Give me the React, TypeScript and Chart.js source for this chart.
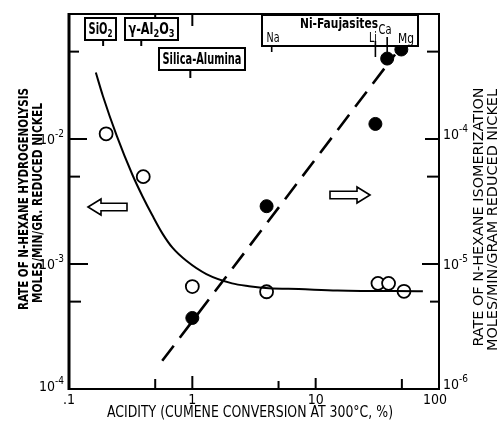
import { useEffect, useRef } from 'react';
import { Chart, registerables } from 'chart.js';

Chart.register(...registerables);

// ---- Data ----
// Open circles: n-hexane hydrogenolysis rate (left axis)
const hydroAcidity = [0.2, 0.4, 1, 4, 32, 39, 52];
const hydroRate = [1.1e-2, 5.0e-3, 6.6e-4, 6.0e-4, 7.0e-4, 7.0e-4, 6.05e-4];
// Filled circles: n-hexane isomerization rate (right axis)
const isoAcidity = [1, 4, 30.5, 38, 49.5];
const isoRate = [3.7e-6, 2.9e-5, 1.32e-4, 4.4e-4, 5.2e-4];
// Solid hydrogenolysis trend curve
const curveAcidity = [0.165, 0.188, 0.244, 0.328, 0.395, 0.475, 0.573, 0.69, 0.895, 1.3, 2.1, 2.88, 4.18, 7.3, 15, 74];
const curveRate = [3.4e-2, 2.22e-2, 1.06e-2, 5.13e-3, 3.47e-3, 2.44e-3, 1.75e-3, 1.35e-3, 1.06e-3, 8.3e-4, 7.0e-4, 6.65e-4, 6.4e-4, 6.3e-4, 6.15e-4, 6.05e-4];
// Dashed isomerization trend line
const dashAcidity = [0.57, 44];
const dashRate = [1.68e-6, 4.75e-4];
// Catalyst markers
const supportNames = ['SiO2', 'γ-Al2O3', 'Silica-Alumina'];
const supportAcidity = [0.2, 0.4, 1];
const faujasiteNames = ['Na', 'Li', 'Ca', 'Mg'];
const faujasiteAcidity = [4.4, 30.5, 38, 50];
// Tick labels
const xTickValues = [0.1, 1, 10, 100];
const xTickLabels = ['.1', '1', '10', '100'];
const leftTickExps = [-4, -3, -2];
const rightTickExps = [-6, -5, -4];

const FONT = '"Liberation Sans Narrow", "DejaVu Sans Condensed", "Liberation Sans", sans-serif';

function line(ctx: CanvasRenderingContext2D, x1: number, y1: number, x2: number, y2: number) {
  ctx.beginPath();
  ctx.moveTo(x1, y1);
  ctx.lineTo(x2, y2);
  ctx.stroke();
}

function fitText(ctx: CanvasRenderingContext2D, text: string, cx: number, cy: number, w: number, font: string, rot = 0) {
  ctx.save();
  ctx.translate(cx, cy);
  ctx.rotate(rot);
  ctx.font = font;
  const m = ctx.measureText(text).width;
  ctx.scale(w / m, 1);
  ctx.textAlign = 'center';
  ctx.textBaseline = 'middle';
  ctx.fillText(text, 0, 0);
  ctx.restore();
}

// chemical-formula text: digits become subscripts; drawn centred and fitted to width w
function richText(ctx: CanvasRenderingContext2D, text: string, cx: number, baseline: number, w: number, size: number, weight = 'bold') {
  const segs: { t: string; sub: boolean }[] = [];
  for (const ch of text) {
    const sub = /[0-9]/.test(ch);
    const last = segs[segs.length - 1];
    if (last && last.sub === sub) last.t += ch;
    else segs.push({ t: ch, sub });
  }
  const big = `${weight} ${size}px ${FONT}`;
  const small = `${weight} ${Math.round(size * 0.72)}px ${FONT}`;
  let total = 0;
  const widths = segs.map((s) => {
    ctx.font = s.sub ? small : big;
    const ww = ctx.measureText(s.t).width;
    total += ww;
    return ww;
  });
  ctx.save();
  ctx.translate(cx, baseline);
  ctx.scale(w / total, 1);
  let x = -total / 2;
  ctx.textAlign = 'left';
  ctx.textBaseline = 'alphabetic';
  segs.forEach((s, i) => {
    ctx.font = s.sub ? small : big;
    ctx.fillText(s.t, x, s.sub ? 3 : 0);
    x += widths[i];
  });
  ctx.restore();
}

function pow10Label(ctx: CanvasRenderingContext2D, exp: number, x: number, y: number, align: 'left' | 'right') {
  const base = '10';
  const sup = '-' + Math.abs(exp);
  ctx.font = `14px ${FONT}`;
  const wb = ctx.measureText(base).width;
  ctx.font = `10px ${FONT}`;
  const ws = ctx.measureText(sup).width;
  const x0 = align === 'right' ? x - wb - ws : x;
  ctx.textAlign = 'left';
  ctx.textBaseline = 'alphabetic';
  ctx.font = `14px ${FONT}`;
  ctx.fillText(base, x0, y + 5);
  ctx.font = `10px ${FONT}`;
  ctx.fillText(sup, x0 + wb, y - 2);
}

function arrow(ctx: CanvasRenderingContext2D, tipX: number, cy: number, len: number, dir: number) {
  // dir = -1 points left, +1 points right
  const headL = 13, headH = 8, bodyH = 3.8;
  const hx = tipX - dir * headL;
  const tx = tipX - dir * len;
  ctx.beginPath();
  ctx.moveTo(tipX, cy);
  ctx.lineTo(hx, cy - headH);
  ctx.lineTo(hx, cy - bodyH);
  ctx.lineTo(tx, cy - bodyH);
  ctx.lineTo(tx, cy + bodyH);
  ctx.lineTo(hx, cy + bodyH);
  ctx.lineTo(hx, cy + headH);
  ctx.closePath();
  ctx.fillStyle = '#fff';
  ctx.fill();
  ctx.lineWidth = 1.6;
  ctx.stroke();
  ctx.fillStyle = '#000';
}

const decorPlugin = {
  id: 'decor',
  afterDraw(chart: any) {
    const { ctx, chartArea: a, scales } = chart;
    const xs = scales.x, yl = scales.y, yr = scales.y2;
    ctx.save();
    ctx.strokeStyle = '#000';
    ctx.fillStyle = '#000';
    ctx.lineCap = 'butt';

    // frame
    ctx.lineWidth = 2;
    ctx.strokeRect(a.left, a.top, a.right - a.left, a.bottom - a.top);
    ctx.lineWidth = 3;
    line(ctx, a.left, a.top - 1, a.left, a.bottom + 1);

    // inward ticks
    ctx.lineWidth = 2;
    const leftTicks: [number, number][] = [[1e-3, 19], [1e-2, 18], [5e-4, 12], [5e-3, 11], [5e-2, 10]];
    leftTicks.forEach(([v, l]) => { const y = yl.getPixelForValue(v); line(ctx, a.left, y, a.left + l, y); });
    const rightTicks: [number, number][] = [[1e-5, 17], [1e-4, 14], [5e-6, 9], [5e-5, 12], [5e-4, 12]];
    rightTicks.forEach(([v, l]) => { const y = yr.getPixelForValue(v); line(ctx, a.right, y, a.right - l, y); });
    const bottomTicks: [number, number][] = [[0.5, 10], [1, 13], [5, 8], [10, 11], [50, 10]];
    bottomTicks.forEach(([v, l]) => { const x = xs.getPixelForValue(v); line(ctx, x, a.bottom, x, a.bottom - l); });
    const topTicks: [number, number][] = [[0.5, 6], [1, 12]];
    topTicks.forEach(([v, l]) => { const x = xs.getPixelForValue(v); line(ctx, x, a.top, x, a.top + l); });

    // x tick labels
    ctx.font = `14px ${FONT}`;
    ctx.textAlign = 'center';
    ctx.textBaseline = 'alphabetic';
    xTickValues.forEach((v, i) => {
      let x = xs.getPixelForValue(v);
      if (i === xTickValues.length - 1) x -= 4;
      ctx.fillText(xTickLabels[i], x, a.bottom + 15);
    });

    // y tick labels
    leftTickExps.forEach((e) => {
      let y = yl.getPixelForValue(Math.pow(10, e));
      if (e === -4) y -= 3;
      pow10Label(ctx, e, a.left - 5, y, 'right');
    });
    rightTickExps.forEach((e) => {
      let y = yr.getPixelForValue(Math.pow(10, e));
      if (e === -6) y -= 5;
      if (e === -4) y -= 5;
      pow10Label(ctx, e, a.right + 4, y, 'left');
    });

    // axis titles
    fitText(ctx, 'ACIDITY (CUMENE CONVERSION AT 300°C, %)', 250, 413, 286, `15px ${FONT}`);
    fitText(ctx, 'RATE OF N-HEXANE HYDROGENOLYSIS', 24, 199, 222, `bold 14px ${FONT}`, -Math.PI / 2);
    fitText(ctx, 'MOLES/MIN/GR. REDUCED NICKEL', 38, 203, 200, `bold 14px ${FONT}`, -Math.PI / 2);
    fitText(ctx, 'RATE OF N-HEXANE ISOMERIZATION', 479, 217, 259, `14px ${FONT}`, -Math.PI / 2);
    fitText(ctx, 'MOLES/MIN/GRAM REDUCED NICKEL', 493, 220, 262, `14px ${FONT}`, -Math.PI / 2);

    // support boxes
    const supportBoxes = [
      { x: 85, y: 18, w: 31, h: 22, tw: 24, tickTop: 40, tickBot: 46 },
      { x: 125, y: 18, w: 53, h: 22, tw: 46, tickTop: 40, tickBot: 46 },
      { x: 159, y: 48, w: 86, h: 22, tw: 79, tickTop: 70, tickBot: 78 },
    ];
    supportNames.forEach((name, i) => {
      const b = supportBoxes[i];
      const tx = xs.getPixelForValue(supportAcidity[i]) - (i === 0 ? 3 : 2);
      ctx.lineWidth = 2;
      line(ctx, tx, b.tickTop, tx, b.tickBot);
      ctx.fillStyle = '#fff';
      ctx.fillRect(b.x, b.y, b.w, b.h);
      ctx.fillStyle = '#000';
      ctx.strokeRect(b.x, b.y, b.w, b.h);
      richText(ctx, name, b.x + b.w / 2, b.y + 16, b.tw, 15);
    });

    // Ni-Faujasites box
    ctx.fillStyle = '#fff';
    ctx.fillRect(262, 15, 156, 31);
    ctx.fillStyle = '#000';
    ctx.lineWidth = 2;
    ctx.strokeRect(262, 15, 156, 31);
    richText(ctx, 'Ni-Faujasites', 339, 28, 78, 14);
    const fLabel = [
      { cx: 273, base: 42, w: 13 },
      { cx: 373, base: 42, w: 8 },
      { cx: 385, base: 34, w: 13 },
      { cx: 406, base: 43, w: 16 },
    ];
    const fTick = [
      [46, 52],
      [41, 57],
      [37, 52],
      [46, 50],
    ];
    faujasiteNames.forEach((n, i) => {
      const L = fLabel[i];
      richText(ctx, n, L.cx, L.base, L.w, 14, 'normal');
      const tx = xs.getPixelForValue(faujasiteAcidity[i]);
      ctx.lineWidth = 1.6;
      line(ctx, tx, fTick[i][0], tx, fTick[i][1]);
    });

    // direction arrows
    arrow(ctx, 88, 207, 39, -1);
    arrow(ctx, 370, 195, 40, 1);

    ctx.restore();
  },
};

export default function App() {
  const ref = useRef<HTMLCanvasElement>(null);
  useEffect(() => {
    if (!ref.current) return;
    const chart = new Chart(ref.current, {
      type: 'line',
      data: {
        datasets: [
          {
            label: 'hydrogenolysis trend',
            data: curveAcidity.map((x, i) => ({ x, y: curveRate[i] })),
            yAxisID: 'y',
            borderColor: '#000',
            borderWidth: 2,
            pointRadius: 0,
            cubicInterpolationMode: 'monotone',
            fill: false,
          },
          {
            label: 'isomerization trend',
            data: dashAcidity.map((x, i) => ({ x, y: dashRate[i] })),
            yAxisID: 'y2',
            borderColor: '#000',
            borderWidth: 2.6,
            borderDash: [19, 10],
            pointRadius: 0,
            fill: false,
          },
          {
            label: 'hydrogenolysis',
            data: hydroAcidity.map((x, i) => ({ x, y: hydroRate[i] })),
            yAxisID: 'y',
            showLine: false,
            pointRadius: 6.5,
            pointBackgroundColor: '#fff',
            pointBorderColor: '#000',
            pointBorderWidth: 1.8,
          },
          {
            label: 'isomerization',
            data: isoAcidity.map((x, i) => ({ x, y: isoRate[i] })),
            yAxisID: 'y2',
            showLine: false,
            pointRadius: 6.5,
            pointBackgroundColor: '#000',
            pointBorderColor: '#000',
            pointBorderWidth: 1,
          },
        ],
      },
      options: {
        responsive: false,
        animation: false,
        devicePixelRatio: 1,
        layout: { padding: { left: 69, top: 14, right: 58, bottom: 33 } },
        plugins: { legend: { display: false }, tooltip: { enabled: false } },
        scales: {
          x: { type: 'logarithmic', min: 0.1, max: 100, display: false },
          y: { type: 'logarithmic', min: 1e-4, max: 1e-1, display: false },
          y2: { type: 'logarithmic', min: 1e-6, max: 1e-3, display: false },
        },
      } as any,
      plugins: [decorPlugin],
    });
    return () => chart.destroy();
  }, []);
  return (
    <div style={{ position: 'absolute', left: 0, top: 0, width: 497, height: 422, background: '#fff' }}>
      <canvas ref={ref} width={497} height={422} style={{ width: 497, height: 422, display: 'block' }} />
    </div>
  );
}
